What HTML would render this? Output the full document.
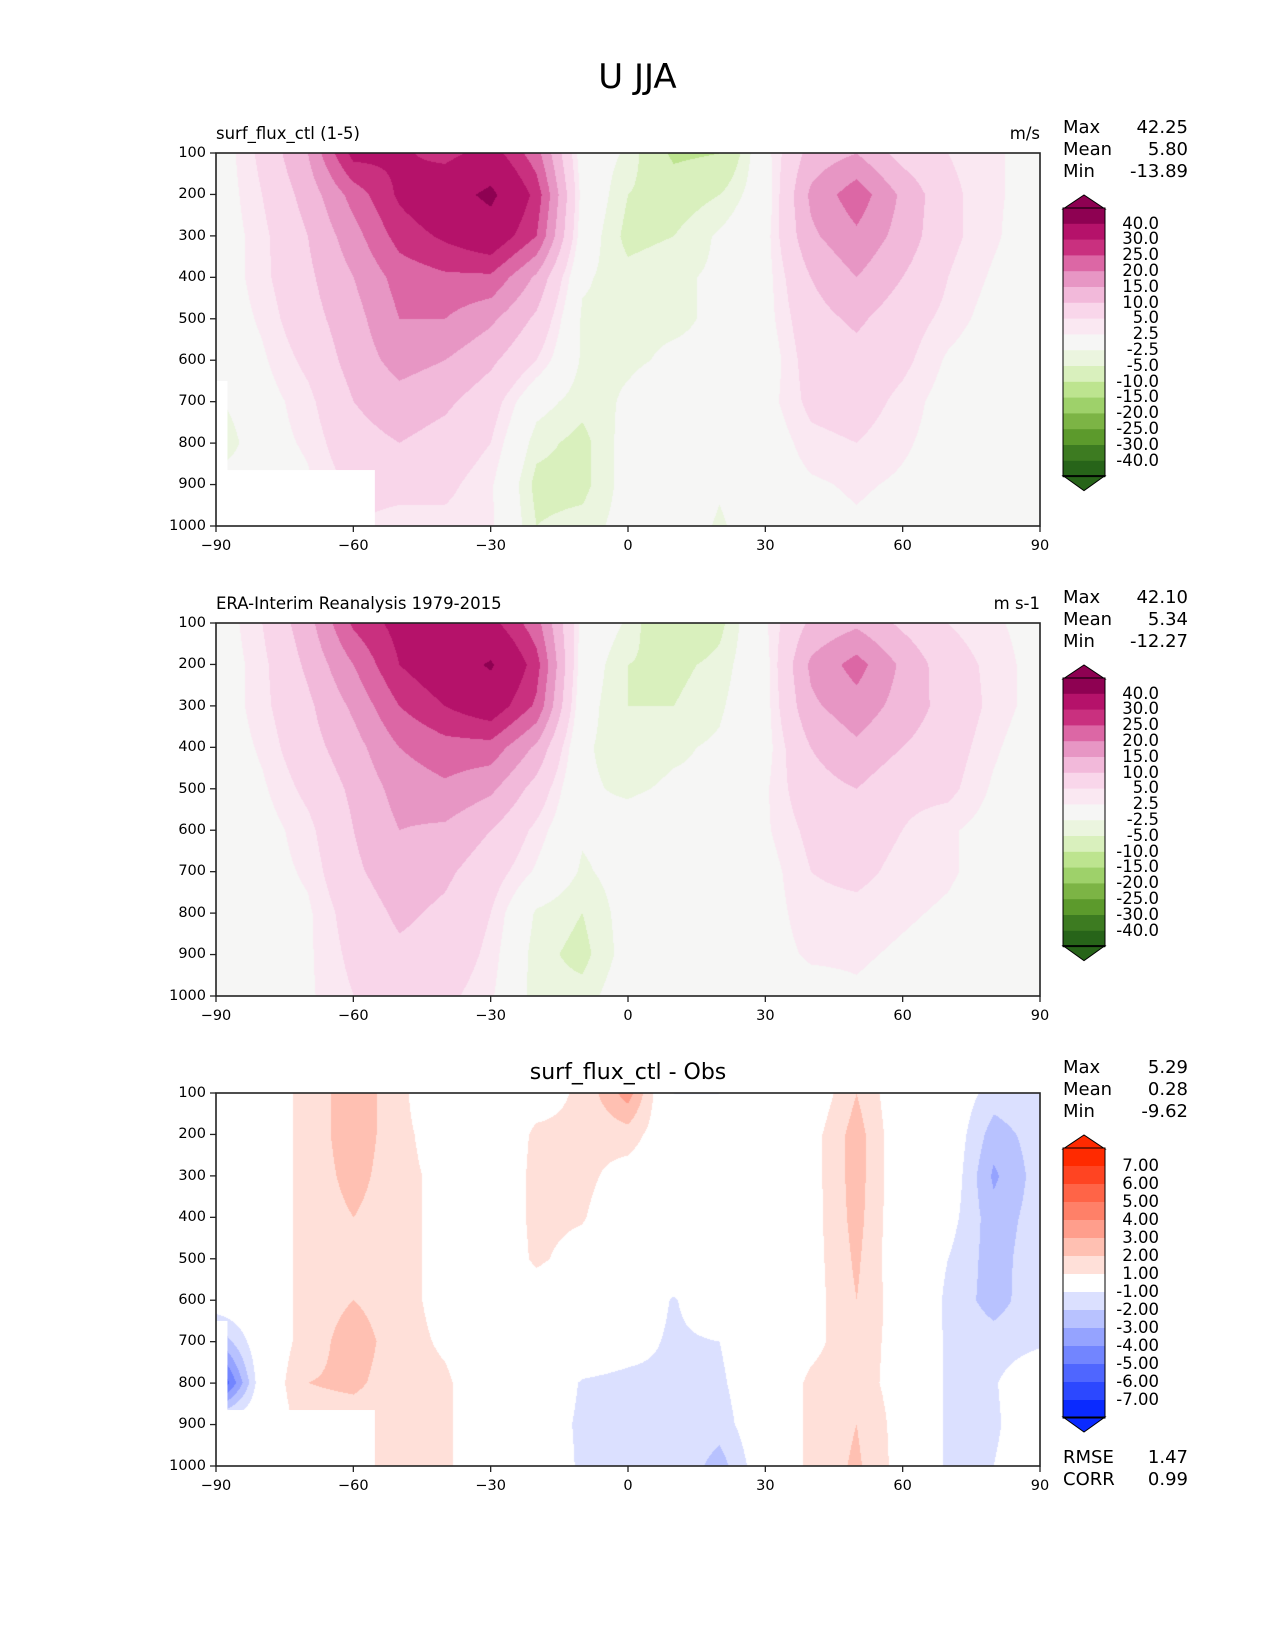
<!DOCTYPE html>
<html><head><meta charset="utf-8">
<style>
body{margin:0;background:#fff;}
#fig{position:relative;width:1275px;height:1650px;background:#fff;font-family:"DejaVu Sans","Liberation Sans",sans-serif;color:#000;overflow:hidden}
.t{position:absolute;white-space:nowrap;line-height:1}
canvas{position:absolute}
</style></head>
<body>
<div id="fig">
<div class="t" style="left:0;width:1275px;text-align:center;top:60px;font-size:34px">U JJA</div>
<svg id="svg" width="1275" height="1650" style="position:absolute;left:0;top:0"></svg>
</div>
<script>
const lats=[-90,-80,-70,-60,-50,-40,-30,-20,-10,0,10,20,30,40,50,60,70,80,90];
const levels=[100,200,300,400,500,600,700,800,900,1000];
const modelU=[
[0,6,15,32,31,28,33,22,0,-3,-11,-10,1,12,15,8,5,3,1],
[0,5,12,22,31,36,42,28,1,-5,-7,-5,0,16,23,14,6,3,1],
[0,4,10,18,27,31,35,25,0,-6,-5,-2,1,14,19,13,6,3,0],
[0,4,9,15,22,24,24,14,-2,-4,-3,-2,1,10,15,10,5,2,0],
[0,3,8,13,20,20,16,9,-3,-3,-3,-2,1,8,11,7,4,1,0],
[0,2,6,12,17,15,11,5,-3,-3,-2,-2,0,7,8,6,2,0,0],
[-3,1,4,10,13,11,7,-1,-4,-2,0,-2,1,6,7,4,1,0,0],
[-6,1,3,8,10,8,5,-4,-6,-1,1,-2,0,4,5,3,1,0,0],
[0,0,2,6,6,6,3,-6,-6,-1,1,-2,0,2,3,2,1,0,0],
[0,0,2,5,4,4,3,-5,-4,-1,0,-3,0,1,2,1,0,0,0]];
const obsU=[
[0,5,13,26,32,30,32,22,1,-3,-10,-6,2,11,14,9,5,3,1],
[0,4,11,20,30,35,41,27,0,-5,-6,-4,1,16,22,14,7,4,1],
[0,4,9,16,25,30,34,24,-1,-5,-5,-3,1,14,18,13,8,4,1],
[0,3,8,13,20,23,23,14,-2,-4,-3,-2,1,10,14,10,7,3,0],
[0,2,6,11,17,19,16,8,-2,-3,-2,-2,2,8,10,6,6,2,0],
[0,1,4,10,15,14,10,4,-2,-1,0,-1,2,6,7,5,3,1,0],
[0,1,3,9,13,11,7,2,-3,-1,0,-1,1,5,6,4,3,1,0],
[-1,1,2,7,11,9,5,-3,-5,-1,0,-1,1,4,4,3,2,0,0],
[-1,1,2,6,9,8,4,-4,-6,-1,0,-1,1,3,3,2,1,0,0],
[-1,0,2,5,7,6,3,-4,-4,0,0,-1,0,1,2,1,0,0,0]];
const diffU=[
[0,0,1.5,2.5,1.5,-1,0.5,0.5,1.2,3.5,-1,-1,0,0,2,0,0,-1.5,-1.2],
[0,0,1.5,2.5,1.5,0,0,1.2,1.2,1.5,0,-0.5,0,0.5,2.5,0,0,-2.5,-1.5],
[0,0,1.5,2.3,1.5,0.5,0,1.3,1.3,0.5,0,0,0,0.5,2.5,0,0,-3.2,-1.5],
[0,0,1.5,2,1.5,0.5,0,1.3,1.1,0,0,0,0,0.5,2.4,0,-0.5,-2.6,-1.5],
[0,0,1.5,2,1.5,0.5,0,1.2,0.5,0,0,0,0,0.5,2.2,0,-1,-2.5,-1.3],
[0,0,1.5,2,1.5,0.5,0,0.3,0,0,-1.1,0,0,0.5,2,0.3,-1.2,-2.5,-1.2],
[-3,0,1.5,2.5,1.5,0.8,0,0,0,-0.5,-1.2,-1,0,0.7,1.6,0.5,-1.2,-1.5,-1.2],
[-7,0,2,2.2,1.5,1.2,0,0,-1.1,-1.3,-1.2,-1.2,0,1.2,1.5,0.5,-1.2,-1.1,0],
[0,0,1.5,1.5,1.5,1.2,0,-0.3,-1.2,-1.3,-1,-1.5,0,1.2,2,0.5,-1.2,-1.2,0],
[0,0,1.5,1.5,1.2,1.2,0,0,-1.2,-1.1,-1,-2.5,0,1.2,2.2,0.5,-1.2,-1,0]];
const fieldBounds=[40,30,25,20,15,10,5,2.5,-2.5,-5,-10,-15,-20,-25,-30,-40];
const fieldLabels=["40.0","30.0","25.0","20.0","15.0","10.0","5.0","2.5","-2.5","-5.0","-10.0","-15.0","-20.0","-25.0","-30.0","-40.0"];
const fieldColors=["#8e0152","#b5126a","#c9307f","#dc67a5","#e796c4","#f2b9da","#f9d6ea","#fae8f2","#f6f6f5","#ebf5df","#d9f0bd","#bde48f","#9ed16a","#7cb445","#5c9a2c","#3d7b21","#276419"];
const diffBounds=[7,6,5,4,3,2,1,-1,-2,-3,-4,-5,-6,-7];
const diffLabels=["7.00","6.00","5.00","4.00","3.00","2.00","1.00","-1.00","-2.00","-3.00","-4.00","-5.00","-6.00","-7.00"];
const diffColors=["#ff2a00","#ff4422","#ff6447","#ff8068","#ff9e8c","#ffc0b2","#ffe0d9","#ffffff","#dbe0ff","#b8c2ff","#95a3ff","#7285ff","#4f66ff","#2c48ff","#0a2aff"];
const xTicks=[-90,-60,-30,0,30,60,90];
const yTicks=[100,200,300,400,500,600,700,800,900,1000];
const stats1=[["Max","42.25"],["Mean","5.80"],["Min","-13.89"]];
const stats2=[["Max","42.10"],["Mean","5.34"],["Min","-12.27"]];
const stats3=[["Max","5.29"],["Mean","0.28"],["Min","-9.62"]];
const metrics3=[["RMSE","1.47"],["CORR","0.99"]];

const fig=document.getElementById('fig');
const svg=document.getElementById('svg');
const NS="http://www.w3.org/2000/svg";
const L=216,R=1040,W=R-L,H=373;
function xs(lat){return L+(lat+90)/180*W;}
function ys(top,p){return top+(p-100)/900*H;}
function sample(g,lat,p){
  let fi=(lat+90)/10, fj=(p-100)/100;
  let i=Math.min(Math.floor(fi),17), j=Math.min(Math.floor(fj),8);
  let a=fi-i,b=fj-j;
  return g[j][i]*(1-a)*(1-b)+g[j][i+1]*a*(1-b)+g[j+1][i]*(1-a)*b+g[j+1][i+1]*a*b;
}
function hexRGB(h){return [parseInt(h.slice(1,3),16),parseInt(h.slice(3,5),16),parseInt(h.slice(5,7),16)];}
function txt(x,y,s,size,anchor,name){
  const d=document.createElement('div');d.className='t';
  
  
  d.textContent=s;d.style.fontSize=size+'px';
  d.style.top=(y-size*0.5)+'px';
  if(anchor==='end'){d.style.right=(1275-x)+'px';}
  else if(anchor==='middle'){d.style.left=(x-300)+'px';d.style.width='600px';d.style.textAlign='center';}
  else d.style.left=x+'px';
  fig.appendChild(d);
}
function el(tag,attrs,name){const e=document.createElementNS(NS,tag);for(const k in attrs)e.setAttribute(k,attrs[k]);
  
  
  svg.appendChild(e);return e;}

function panel(top,grid,bounds,colors,mask,key){
  const cv=document.createElement('canvas');cv.width=W;cv.height=H;
  cv.style.left=L+'px';cv.style.top=top+'px';
  
  
  fig.insertBefore(cv,svg);
  const ctx=cv.getContext('2d');const img=ctx.createImageData(W,H);
  const rgb=colors.map(hexRGB);
  for(let y=0;y<H;y++){const p=100+y/(H-1)*900;
    for(let x=0;x<W;x++){const lat=-90+x/(W-1)*180;
      const v=sample(grid,lat,p);
      let ci=bounds.length;for(let i=0;i<bounds.length;i++){if(v>bounds[i]){ci=i;break;}}
      const c=rgb[ci];const k=(y*W+x)*4;
      img.data[k]=c[0];img.data[k+1]=c[1];img.data[k+2]=c[2];img.data[k+3]=255;}}
  ctx.putImageData(img,0,0);
  if(mask){
    el('rect',{x:xs(-90),y:ys(top,865),width:xs(-55.3)-xs(-90),height:ys(top,1000)-ys(top,865),fill:'#fff'},key+'-surface-mask');
    el('rect',{x:xs(-90),y:ys(top,650),width:xs(-87.5)-xs(-90),height:ys(top,1000)-ys(top,650),fill:'#fff'},key+'-surface-mask-edge');
  }
  el('rect',{x:L,y:top,width:W,height:H,fill:'none',stroke:'#222','stroke-width':1.6},key+'-axes-frame');
  yTicks.forEach(p=>{const y=ys(top,p);
    el('line',{x1:L-6,x2:L,y1:y,y2:y,stroke:'#222','stroke-width':1.3},key+'-y-tick');
    txt(L-10,y,String(p),14.5,'end',key+'-y-tick-label');});
  xTicks.forEach(t=>{const x=xs(t);
    el('line',{x1:x,x2:x,y1:top+H,y2:top+H+6,stroke:'#222','stroke-width':1.3},key+'-x-tick');
    txt(x,top+H+20,String(t).replace('-','\u2212'),14.5,'middle',key+'-x-tick-label');});
}
function colorbar(apexTop,boxH,labels,colors,key){
  const x0=1063,x1=1105,xm=(x0+x1)/2,top=apexTop+13;
  const n=colors.length;
  el('polygon',{points:`${x0},${top+1} ${xm},${apexTop} ${x1},${top+1}`,fill:colors[0],stroke:'#000','stroke-width':1},key+'-colorbar-extend-top');
  for(let i=0;i<n;i++){el('rect',{x:x0,y:top+i*boxH,width:x1-x0,height:boxH+0.6,fill:colors[i]},key+'-colorbar-swatch');}
  const bot=top+n*boxH;
  el('polygon',{points:`${x0},${bot-1} ${xm},${bot+14} ${x1},${bot-1}`,fill:colors[n-1],stroke:'#000','stroke-width':1},key+'-colorbar-extend-bottom');
  el('rect',{x:x0,y:top,width:x1-x0,height:n*boxH,fill:'none',stroke:'#000','stroke-width':1},key+'-colorbar-frame');
  labels.forEach((s,i)=>{txt(1159,top+(i+1)*boxH,s,16.5,'end',key+'-colorbar-label');});
}
function stats(y,rows,key){rows.forEach((r,i)=>{txt(1063,y+i*22,r[0],18,'start',key+'-stat-name');txt(1188,y+i*22,r[1],18,'end',key+'-stat-value');});}

const T1=153,T2=623,T3=1093;
panel(T1,modelU,fieldBounds,fieldColors,true,'model');
panel(T2,obsU,fieldBounds,fieldColors,false,'obs');
panel(T3,diffU,diffBounds,diffColors,true,'diff');
colorbar(195,15.8,fieldLabels,fieldColors,'model');
colorbar(665,15.8,fieldLabels,fieldColors,'obs');
colorbar(1135,18,diffLabels,diffColors,'diff');
txt(L,T1-19,'surf_flux_ctl (1-5)',16.5,'start','model-panel-title');
txt(R,T1-19,'m/s',16.5,'end','model-units');
txt(L,T2-19,'ERA-Interim Reanalysis 1979-2015',16.5,'start','obs-panel-title');
txt(R,T2-19,'m s-1',16.5,'end','obs-units');
txt((L+R)/2,T3-20,'surf_flux_ctl - Obs',22,'middle','diff-panel-title');
stats(128,stats1,'model');
stats(598,stats2,'obs');
stats(1068,stats3,'diff');
stats(1458,metrics3,'diff-metric');
</script>
</body></html>
